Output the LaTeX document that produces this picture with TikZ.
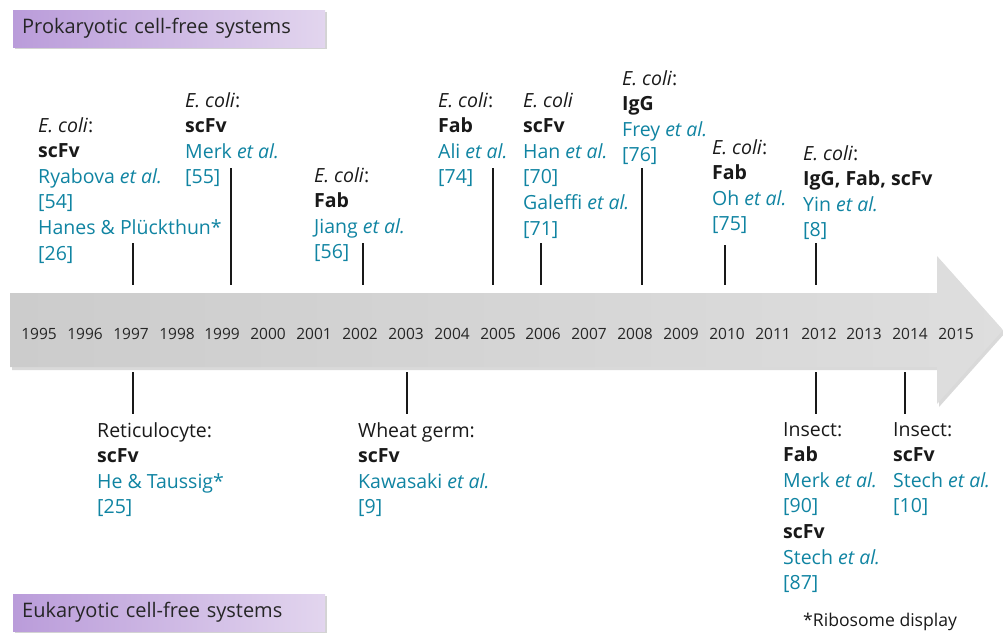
\documentclass[tikz,border=0pt]{standalone}
\usepackage{fontspec}
\setmainfont{Open Sans}
\usetikzlibrary{shadows}
\definecolor{refcol}{RGB}{16,132,162}
\definecolor{hdrleft}{RGB}{186,156,218}
\definecolor{hdrright}{RGB}{226,213,238}
\newcommand{\Ecoli}{\textit{E.~coli}}
\newcommand{\etal}{\textit{et al.}}
\newcommand{\ab}[1]{\textbf{#1}}
\newcommand{\src}[1]{\textcolor{refcol}{#1}}

\begin{document}
\begin{tikzpicture}[x=1pt,y=-1pt]
  \tikzstyle{hdr} = [anchor=north west, inner xsep=9pt, inner ysep=0pt,
    text width=294pt, minimum height=37pt, align=left,
    left color=hdrleft, right color=hdrright,
    drop shadow={shadow xshift=2pt, shadow yshift=-2pt, opacity=.35},
    font=\fontsize{20}{24}\selectfont, text=black!85]
  \tikzstyle{blk} = [anchor=north west, align=left, inner sep=0pt,
    font=\fontsize{19.5}{25.6}\selectfont, text=black!90]
  \tikzstyle{yr} = [inner sep=0pt, font=\fontsize{15.5}{18}\selectfont, text=black!85]
  \tikzstyle{tick} = [line width=2.6pt, black!90]
  \useasboundingbox (0,0) rectangle (1003,632);
  %%
  %% the time axis
  \path[left color=black!20, right color=black!13,
    drop shadow={shadow xshift=2pt, shadow yshift=-3pt, opacity=.3}]
    (10,293) -- (937,293) -- (937,256) -- (1003,330) -- (937,404)
    -- (937,367) -- (10,367) -- cycle;
  \node[yr] (y95) at (39,334) {1995};
  \node[yr] (y96) at (85,334) {1996};
  \node[yr] (y97) at (131,334) {1997};
  \node[yr] (y98) at (177,334) {1998};
  \node[yr] (y99) at (222,334) {1999};
  \node[yr] (y00) at (268,334) {2000};
  \node[yr] (y01) at (314,334) {2001};
  \node[yr] (y02) at (360,334) {2002};
  \node[yr] (y03) at (406,334) {2003};
  \node[yr] (y04) at (452,334) {2004};
  \node[yr] (y05) at (498,334) {2005};
  \node[yr] (y06) at (543,334) {2006};
  \node[yr] (y07) at (589,334) {2007};
  \node[yr] (y08) at (635,334) {2008};
  \node[yr] (y09) at (681,334) {2009};
  \node[yr] (y10) at (727,334) {2010};
  \node[yr] (y11) at (773,334) {2011};
  \node[yr] (y12) at (819,334) {2012};
  \node[yr] (y13) at (864,334) {2013};
  \node[yr] (y14) at (910,334) {2014};
  \node[yr] (y15) at (956,334) {2015};
  %%
  %% headers
  \node[hdr] (pro) at (13,10) {Prokaryotic cell-free systems};
  \node[hdr] (euk) at (13,594) {Eukaryotic cell-free systems};
  \node[blk, anchor=west, font=\fontsize{17.6}{20}\selectfont] (note) at (803,622) {*Ribosome display};
  %%
  %% prokaryotic entries
  \node[blk] (p97) at (38,117) {\Ecoli:\\ \ab{scFv}\\ \src{Ryabova \etal}\\ \src{[54]}\\ \src{Hanes \& Plückthun*}\\ \src{[26]}};
  \node[blk] (p99) at (185,92) {\Ecoli:\\ \ab{scFv}\\ \src{Merk \etal}\\ \src{[55]}};
  \node[blk] (p02) at (314,167) {\Ecoli:\\ \ab{Fab}\\ \src{Jiang \etal}\\ \src{[56]}};
  \node[blk] (p05) at (438,92) {\Ecoli:\\ \ab{Fab}\\ \src{Ali \etal}\\ \src{[74]}};
  \node[blk] (p06) at (523,92) {\Ecoli\\ \ab{scFv}\\ \src{Han \etal}\\ \src{[70]}\\ \src{Galeffi \etal}\\ \src{[71]}};
  \node[blk] (p08) at (622,70) {\Ecoli:\\ \ab{IgG}\\ \src{Frey \etal}\\ \src{[76]}};
  \node[blk] (p10) at (712,139) {\Ecoli:\\ \ab{Fab}\\ \src{Oh \etal}\\ \src{[75]}};
  \node[blk] (p12) at (803,145) {\Ecoli:\\ \ab{IgG, Fab, scFv}\\ \src{Yin \etal}\\ \src{[8]}};
  %%
  %% eukaryotic entries
  \node[blk] (e97) at (97,422) {Reticulocyte:\\ \ab{scFv}\\ \src{He \& Taussig*}\\ \src{[25]}};
  \node[blk] (e03) at (358,422) {Wheat germ:\\ \ab{scFv}\\ \src{Kawasaki \etal}\\ \src{[9]}};
  \node[blk] (e12) at (783,422) {Insect:\\ \ab{Fab}\\ \src{Merk \etal}\\ \src{[90]}\\ \ab{scFv}\\ \src{Stech \etal}\\ \src{[87]}};
  \node[blk] (e14) at (893,422) {Insect:\\ \ab{scFv}\\ \src{Stech \etal}\\ \src{[10]}};
  %%
  %% ticks
  \coordinate (u97) at (133,243); \coordinate (v97) at (133,285);
  \coordinate (u99) at (231,168); \coordinate (v99) at (231,285);
  \coordinate (u02) at (363,243); \coordinate (v02) at (363,285);
  \coordinate (u05) at (493,168); \coordinate (v05) at (493,285);
  \coordinate (u06) at (541,243); \coordinate (v06) at (541,285);
  \coordinate (u08) at (642,168); \coordinate (v08) at (642,285);
  \coordinate (u10) at (725,245); \coordinate (v10) at (725,285);
  \coordinate (u12) at (816,243); \coordinate (v12) at (816,285);
  \draw[tick] (u97) -- (v97); \draw[tick] (u99) -- (v99);
  \draw[tick] (u02) -- (v02); \draw[tick] (u05) -- (v05);
  \draw[tick] (u06) -- (v06); \draw[tick] (u08) -- (v08);
  \draw[tick] (u10) -- (v10); \draw[tick] (u12) -- (v12);
  \coordinate (s97) at (133,372); \coordinate (d97) at (133,414);
  \coordinate (s03) at (407,372); \coordinate (d03) at (407,414);
  \coordinate (s12) at (816,372); \coordinate (d12) at (816,414);
  \coordinate (s14) at (905,372); \coordinate (d14) at (905,414);
  \draw[tick] (s97) -- (d97); \draw[tick] (s03) -- (d03);
  \draw[tick] (s12) -- (d12); \draw[tick] (s14) -- (d14);
\end{tikzpicture}
\end{document}
